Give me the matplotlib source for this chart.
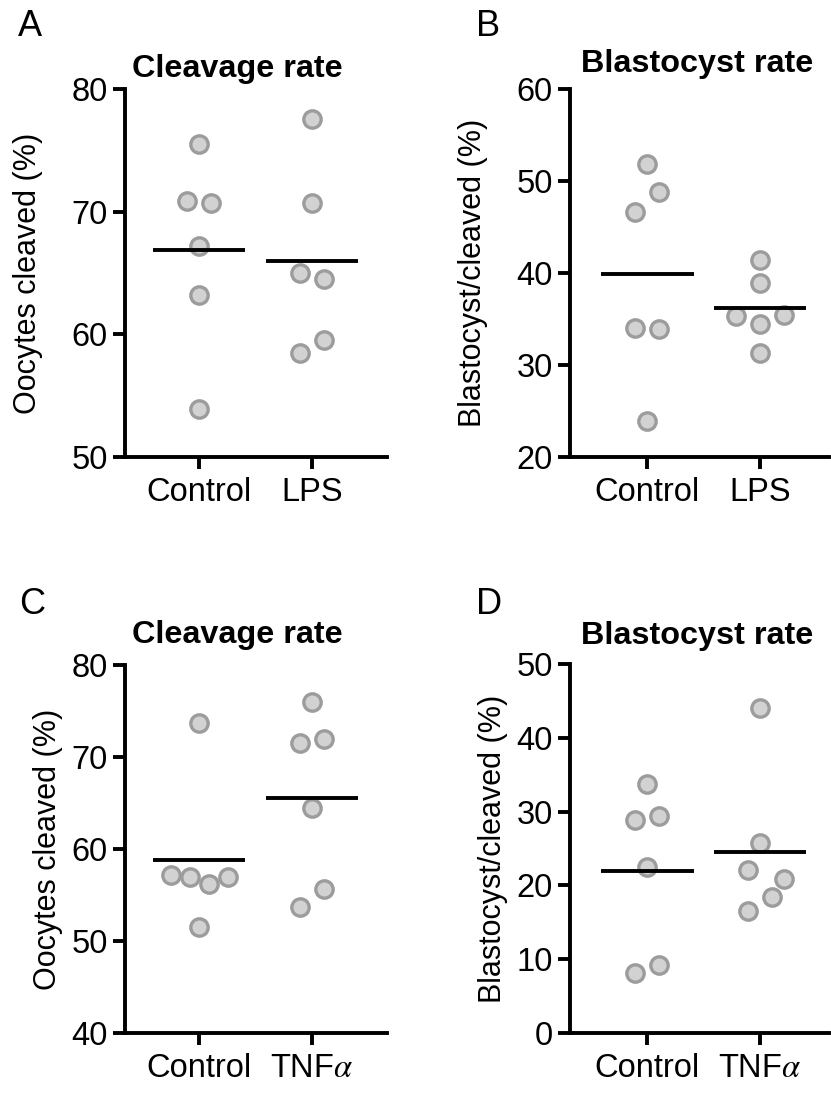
import numpy as np
import matplotlib
matplotlib.use("Agg")
import matplotlib.pyplot as plt

plt.rcParams['font.family'] = ['Liberation Sans', 'DejaVu Sans']
plt.rcParams['mathtext.fontset'] = 'stix'

# ---------------- data ----------------
groups_lps = ["Control", "LPS"]
groups_tnf = ["Control", r"TNF$\alpha$"]

a_control = [75.5, 70.9, 70.7, 67.2, 63.2, 53.9]
a_lps = [77.55, 70.7, 65.0, 64.5, 58.5, 59.5]

b_control = [51.8, 48.8, 46.6, 34.05, 33.95, 23.95]
b_lps = [41.4, 38.95, 35.3, 35.4, 34.5, 31.3]

c_control = [73.7, 57.16, 57.0, 56.15, 57.0, 51.55]
c_tnf = [75.95, 71.57, 71.93, 64.47, 55.7, 53.65]

d_control = [33.79, 28.9, 29.45, 22.5, 8.13, 9.21]
d_tnf = [43.99, 25.7, 22.04, 20.87, 18.43, 16.49]

# horizontal scatter layout (in pixels) to avoid overlapping dots
a_control_dx = [0, -12, 12, 0, 0, 0]
a_lps_dx = [0, 0, -12, 12, -12, 12]
b_control_dx = [0, 12, -12, -12, 12, 0]
b_lps_dx = [0, 0, -24, 24, 0, 0]
c_control_dx = [0, -28, -9, 10, 29, 0]
c_tnf_dx = [0, -12, 12, 0, 12, -12]
d_control_dx = [0, -12, 12, 0, -12, 12]
d_tnf_dx = [0, 0, -12, 24, 12, -12]

W, H = 831, 1120
fig = plt.figure(figsize=(W / 100, H / 100), dpi=100)

PX_PER_UNIT = 113.0
LW = 2.8


def make_panel(rect_px, ylim, yticks, xlim, groups, series, dxs,
               ylabel, ylabel_x, title, title_xy, letter, letter_xy):
    l, t, r, b = rect_px
    ax = fig.add_axes([l / W, (H - b) / H, (r - l) / W, (b - t) / H])
    for i, (vals, dx) in enumerate(zip(series, dxs)):
        xs = i + np.array(dx) / PX_PER_UNIT
        ax.plot(xs, vals, linestyle='none', marker='o', markersize=12.5,
                markerfacecolor='#d2d2d2', markeredgecolor='#9c9c9c',
                markeredgewidth=2.4, zorder=3, clip_on=False)
        m = np.mean(vals)
        ax.plot([i - 0.41, i + 0.41], [m, m], color='black', lw=LW,
                solid_capstyle='butt', zorder=4)
    ax.set_xlim(*xlim)
    ax.set_ylim(*ylim)
    ax.set_yticks(yticks)
    ax.set_xticks([0, 1])
    ax.set_xticklabels(groups)
    for s in ['top', 'right']:
        ax.spines[s].set_visible(False)
    for s in ['left', 'bottom']:
        ax.spines[s].set_linewidth(LW)
        ax.spines[s].set_capstyle('projecting')
    ax.tick_params(axis='both', width=LW, length=8.5, labelsize=23.5,
                   color='black', labelcolor='black')
    ax.tick_params(axis='y', pad=4)
    ax.tick_params(axis='x', pad=6)
    ax.set_ylabel(ylabel, fontsize=22)
    ax.yaxis.set_label_coords((ylabel_x - l) / (r - l), 0.5)
    fig.text(title_xy[0] / W, 1 - title_xy[1] / H, title, fontsize=23.3,
             fontweight='bold', ha='center', va='baseline')
    fig.text(letter_xy[0] / W, 1 - letter_xy[1] / H, letter, fontsize=26,
             ha='left', va='baseline')
    return ax


make_panel((125, 89, 387, 457), (50, 80), [50, 60, 70, 80], (-0.655, 1.664),
           groups_lps, [a_control, a_lps], [a_control_dx, a_lps_dx],
           "Oocytes cleaved (%)", 43, "Cleavage rate", (237, 77), "A", (18, 36))
make_panel((570, 89, 829, 457), (20, 60), [20, 30, 40, 50, 60], (-0.686, 1.612),
           groups_lps, [b_control, b_lps], [b_control_dx, b_lps_dx],
           "Blastocyst/cleaved (%)", 488, "Blastocyst rate", (697, 72), "B", (476, 36))
make_panel((125, 665, 387, 1033), (40, 80), [40, 50, 60, 70, 80], (-0.657, 1.668),
           groups_tnf, [c_control, c_tnf], [c_control_dx, c_tnf_dx],
           "Oocytes cleaved (%)", 63, "Cleavage rate", (237, 643), "C", (19, 614))
make_panel((570, 664, 829, 1033), (0, 50), [0, 10, 20, 30, 40, 50], (-0.686, 1.612),
           groups_tnf, [d_control, d_tnf], [d_control_dx, d_tnf_dx],
           "Blastocyst/cleaved (%)", 508, "Blastocyst rate", (697, 644), "D", (476, 614))

fig.savefig("out.png", dpi=100)
